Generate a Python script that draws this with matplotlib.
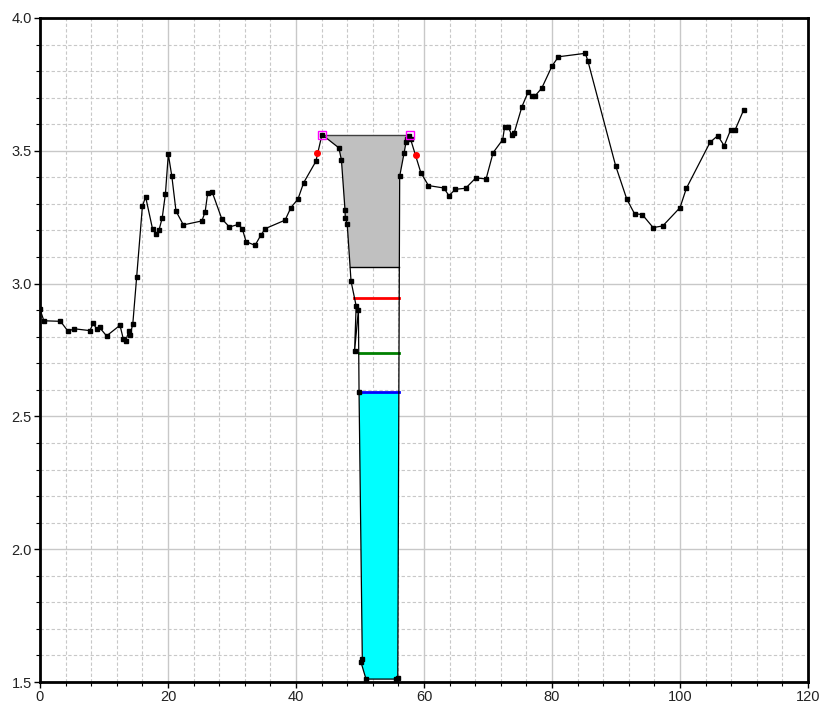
import numpy as np
import matplotlib
matplotlib.use('Agg')
import matplotlib.pyplot as plt
from matplotlib.patches import Polygon, Rectangle
from matplotlib.ticker import MultipleLocator

plt.rcParams['font.family'] = ['Liberation Sans', 'DejaVu Sans']

# ground profile (station, elevation)
station = [0.0, 0.6, 3.2, 4.4, 5.3, 7.8, 8.3, 8.9, 9.3, 10.4, 12.5, 13.0, 13.4, 13.9, 14.1, 14.5,
           15.1, 16.0, 16.5, 17.6, 18.1, 18.6, 19.1, 19.6, 20.05, 20.6, 21.25, 22.4, 25.3, 25.8,
           26.2, 26.9, 28.4, 29.6, 31.0, 31.6, 32.2, 33.6, 34.5, 35.2, 38.3, 39.2, 40.3, 41.2,
           43.1, 44.06, 46.7, 47.1, 47.66, 47.7, 48.0, 48.6, 49.4, 49.15, 49.75, 49.85, 50.36,
           50.16, 50.94, 55.7, 55.9, 56.2, 56.9, 57.2, 57.4, 57.6, 57.9, 59.5, 60.7, 63.1, 63.9,
           64.9, 66.5, 68.1, 69.7, 70.8, 72.3, 72.6, 73.2, 73.7, 74.1, 75.3, 76.3, 76.8, 77.4,
           78.4, 80.0, 81.0, 85.2, 85.6, 89.95, 91.7, 92.9, 94.1, 95.8, 97.3, 100.0, 101.0,
           104.7, 105.9, 106.9, 107.9, 108.6, 109.95]
elevation = [2.904, 2.860, 2.858, 2.820, 2.830, 2.823, 2.850, 2.828, 2.835, 2.803, 2.843, 2.793,
             2.785, 2.823, 2.808, 2.848, 3.024, 3.291, 3.327, 3.204, 3.187, 3.202, 3.248, 3.339,
             3.487, 3.404, 3.273, 3.221, 3.236, 3.270, 3.340, 3.345, 3.244, 3.213, 3.223, 3.207,
             3.158, 3.144, 3.182, 3.207, 3.239, 3.286, 3.318, 3.380, 3.460, 3.561, 3.511, 3.465,
             3.276, 3.248, 3.224, 3.009, 2.916, 2.745, 2.901, 2.593, 1.588, 1.574, 1.511, 1.511,
             1.515, 3.404, 3.493, 3.534, 3.543, 3.555, 3.544, 3.418, 3.369, 3.360, 3.331, 3.355,
             3.359, 3.398, 3.394, 3.493, 3.542, 3.591, 3.588, 3.559, 3.568, 3.666, 3.723, 3.705,
             3.708, 3.736, 3.819, 3.854, 3.867, 3.839, 3.443, 3.317, 3.263, 3.260, 3.211, 3.217,
             3.286, 3.359, 3.532, 3.557, 3.519, 3.578, 3.578, 3.654]

# bank markers
bank_x = [43.28, 58.7]
bank_y = [3.492, 3.484]
levee_x = [44.06, 57.76]
levee_y = [3.561, 3.561]

# levels
top_level = 3.561
box_level = 3.064
red_level = 2.947
green_level = 2.740
water_level = 2.593

x = np.array(station)
y = np.array(elevation)
i0 = station.index(44.06)
i1 = station.index(57.6)
cx = np.concatenate([x[i0:i1 + 1], [levee_x[1]]])
cy = np.concatenate([y[i0:i1 + 1], [levee_y[1]]])


def crossings(level):
    xs = []
    for k in range(len(cx) - 1):
        ya, yb = cy[k], cy[k + 1]
        if (ya - level) * (yb - level) <= 0 and ya != yb:
            xs.append(cx[k] + (level - ya) * (cx[k + 1] - cx[k]) / (yb - ya))
    return xs[0], xs[-1]


fig = plt.figure(figsize=(8.21, 7.06), dpi=100)
ax = fig.add_axes([40 / 821, 1 - 682 / 706, 768 / 821, 664 / 706])

ax.set_xlim(0, 120)
ax.set_ylim(1.5, 4.0)
ax.xaxis.set_major_locator(MultipleLocator(20))
ax.xaxis.set_minor_locator(MultipleLocator(4))
ax.yaxis.set_major_locator(MultipleLocator(0.5))
ax.yaxis.set_minor_locator(MultipleLocator(0.1))
ax.grid(which='major', color='#c8c8c8', lw=1.0, ls='-')
ax.grid(which='minor', color='#c8c8c8', lw=0.8, ls=(0, (3, 2)))
ax.set_axisbelow(True)
ax.yaxis.set_major_formatter(plt.FuncFormatter(lambda v, p: f'{v:.1f}'))
ax.tick_params(which='major', direction='out', length=4, width=1, labelsize=10.5,
               labelcolor='#222222', pad=2)
ax.tick_params(which='minor', direction='out', length=3, width=0.8)
for s in ax.spines.values():
    s.set_linewidth(2)
    s.set_color('black')

# gray region between top level and box level
gray = Polygon(np.column_stack([cx, cy]), closed=True, facecolor='#c0c0c0', edgecolor='none', zorder=2)
ax.add_patch(gray)
gray.set_clip_path(Rectangle((0, box_level), 120, top_level - box_level, transform=ax.transData))

# water
water = Polygon(np.column_stack([cx, cy]), closed=True, facecolor='#00ffff', edgecolor='none', zorder=2)
ax.add_patch(water)
water.set_clip_path(Rectangle((0, 1.5), 120, water_level - 1.5, transform=ax.transData))

ax.plot(levee_x, levee_y, color='#404040', lw=1, zorder=3)
bx0, bx1 = crossings(box_level)
ax.plot([bx0, bx1], [box_level, box_level], color='black', lw=1, zorder=3)

for lev, col in [(red_level, 'red'), (green_level, 'green'), (water_level, 'blue')]:
    a, b = crossings(lev)
    ax.plot([a, b], [lev, lev], color=col, lw=2, zorder=4)

ax.plot(x, y, color='black', lw=0.9, marker='s', ms=3.5, mfc='black', mec='black', zorder=5)
ax.plot(bank_x, bank_y, ls='none', marker='o', ms=4, color='red', zorder=6)
ax.plot(levee_x, levee_y, ls='none', marker='s', ms=6, mfc='none', mec='magenta', mew=1, zorder=6)

fig.savefig('out.png', dpi=100)
